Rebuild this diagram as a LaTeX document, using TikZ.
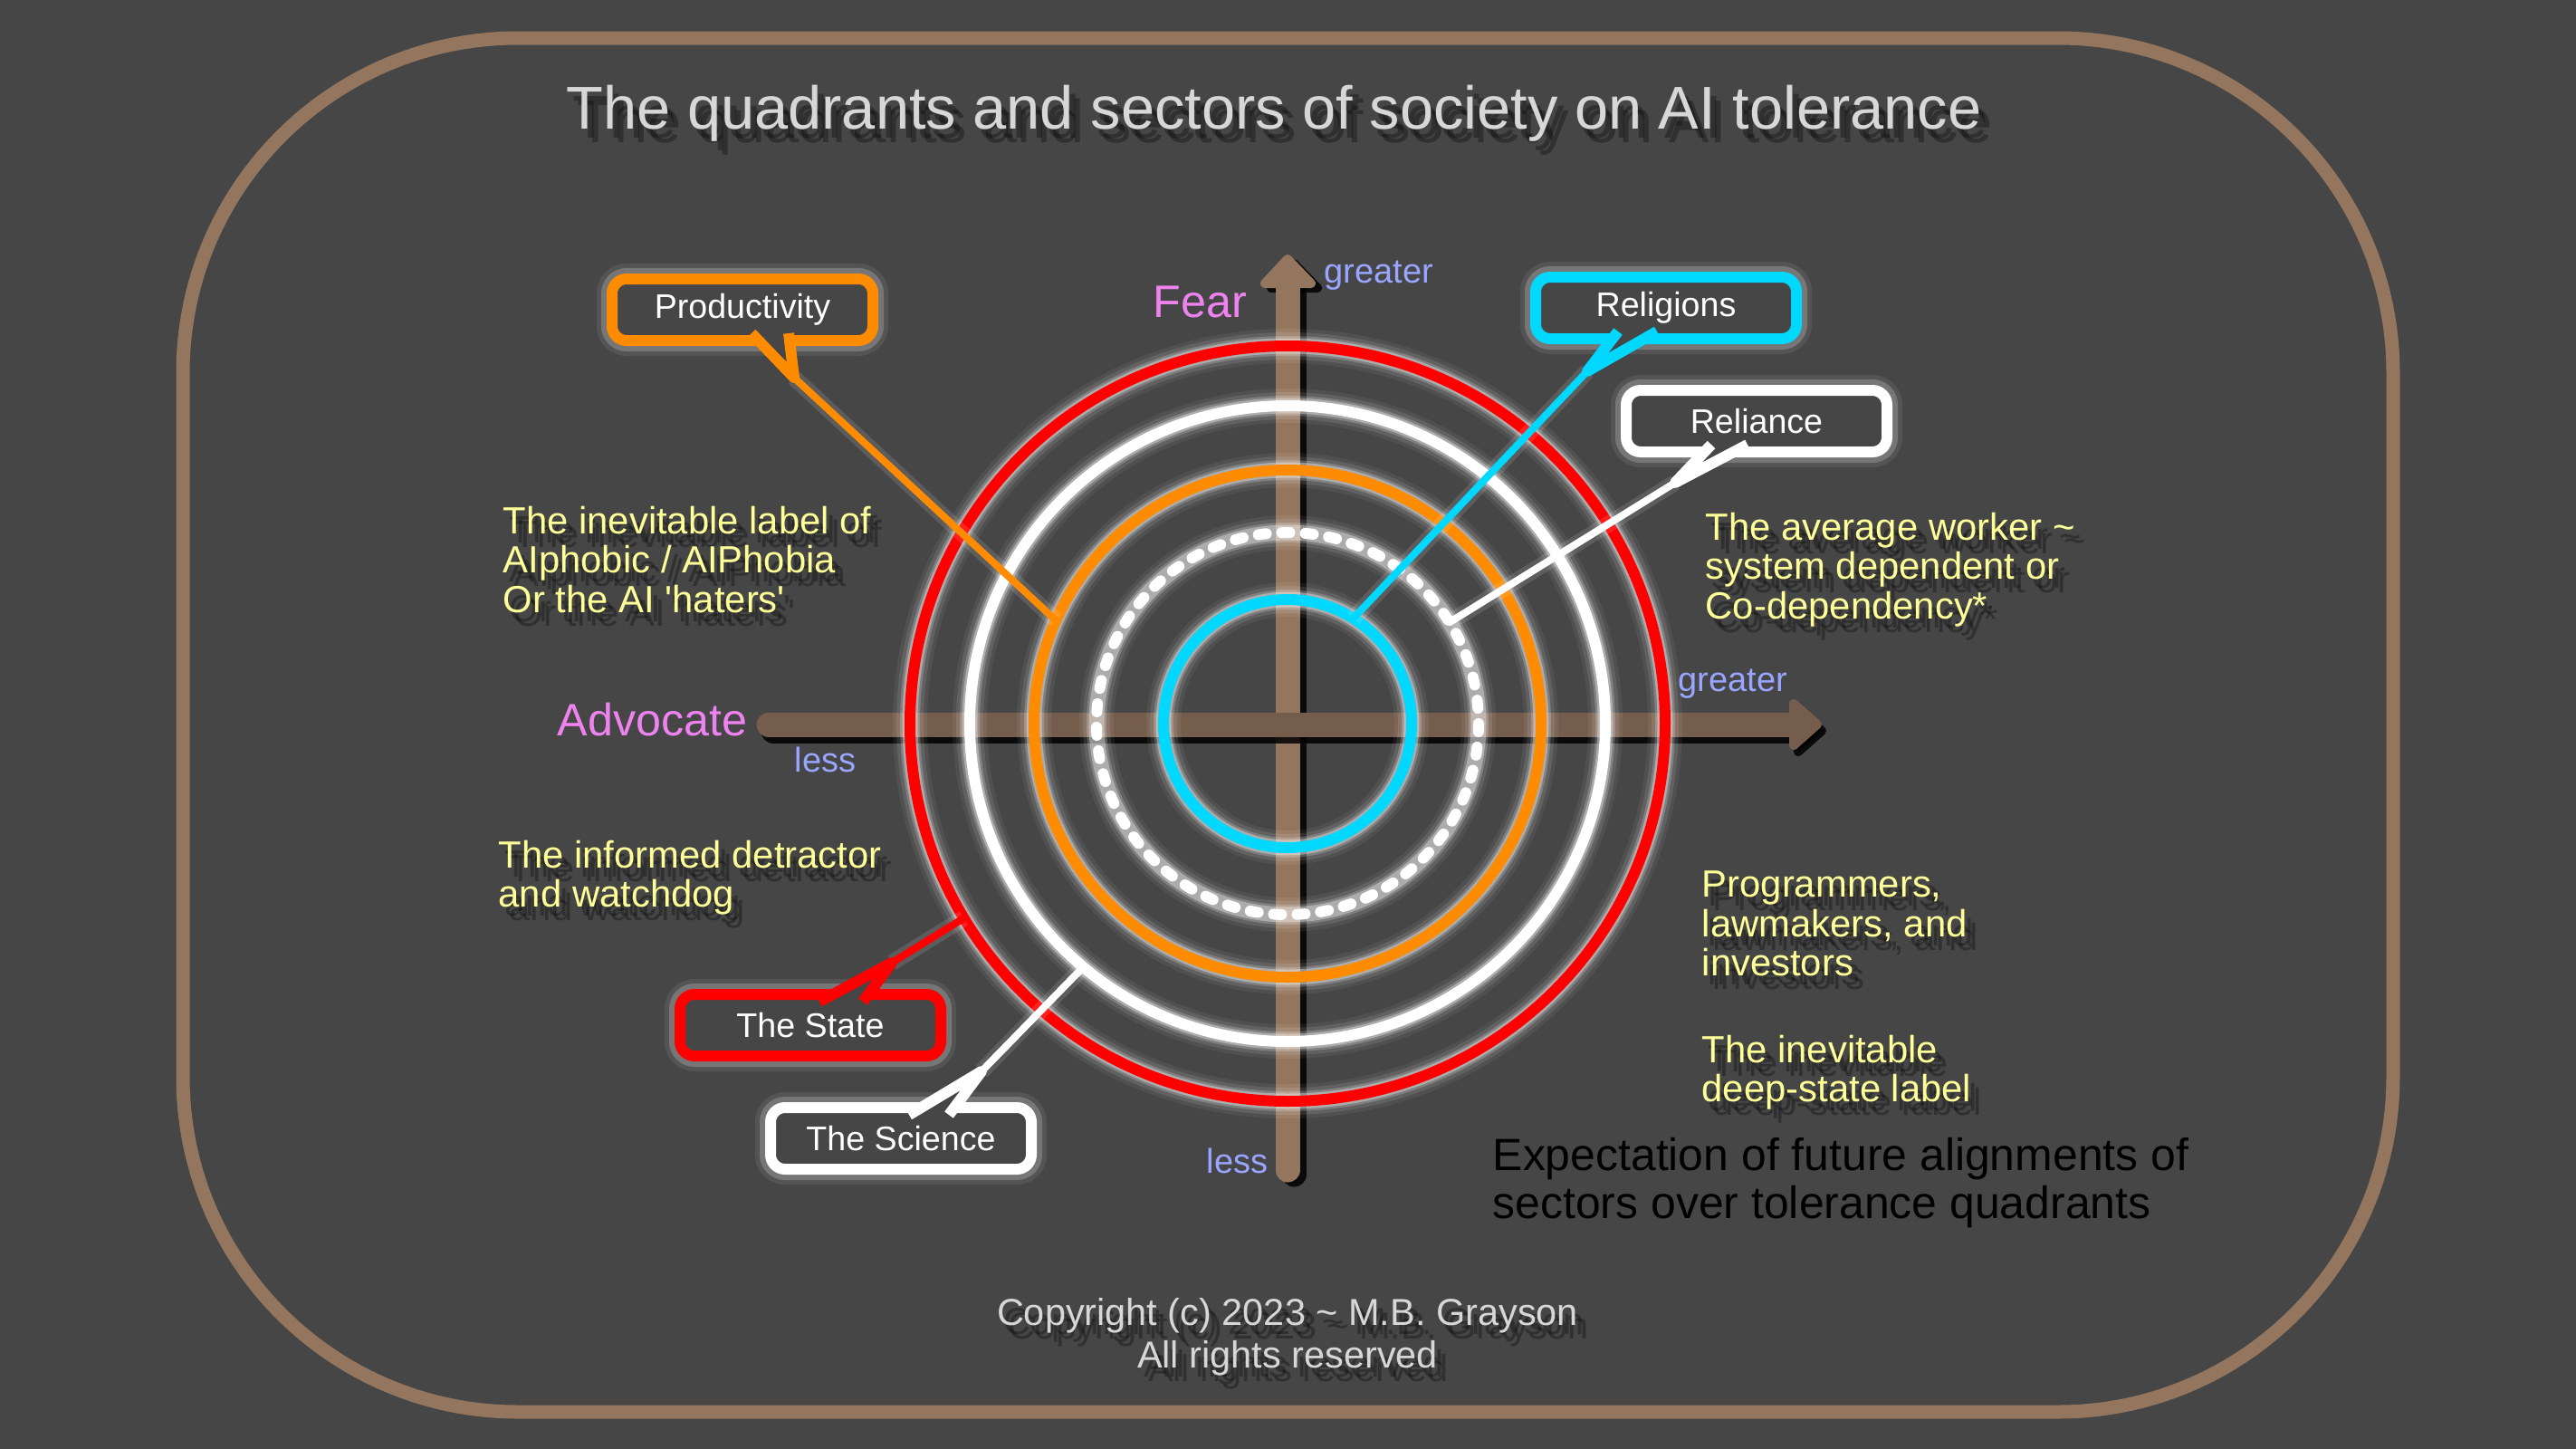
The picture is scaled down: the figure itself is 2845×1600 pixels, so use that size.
\documentclass[tikz,border=0pt]{standalone}
\usepackage{fontspec}
\setmainfont{Liberation Sans}
\usetikzlibrary{calc}
\definecolor{bgcol}{RGB}{70,70,70}
\definecolor{framecol}{RGB}{148,118,95}
\definecolor{advaxiscol}{RGB}{116,93,77}
\definecolor{sectcyan}{RGB}{0,216,255}
\definecolor{sectorange}{RGB}{255,140,0}
\definecolor{sectred}{RGB}{255,0,0}
\definecolor{polecol}{RGB}{238,130,238}
\definecolor{scalecol}{RGB}{153,165,255}
\definecolor{noteyellow}{RGB}{255,255,153}
\definecolor{titlegray}{RGB}{215,215,215}
\tikzset{
  ring/.style={line width=1.2mm,
    preaction={draw=white, solid, line width=3.8mm, opacity=0.06},
    preaction={draw=white, solid, line width=3.0mm, opacity=0.1},
    preaction={draw=white, solid, line width=2.2mm, opacity=0.2},
    preaction={draw=white, solid, line width=1.7mm, opacity=0.35}},
  sectbox/.style={draw, rounded corners=1.6mm, line width=1.2mm, fill=bgcol, text=white,
    minimum width=28.8mm, minimum height=6.8mm, inner sep=0pt, outer sep=0pt,
    font=\fontsize{10.7}{12}\selectfont,
    preaction={draw=white, line width=3.4mm, opacity=0.08},
    preaction={draw=white, line width=2.4mm, opacity=0.2}},
  tail/.style={line width=1.2mm, line join=round, fill=bgcol},
  leader/.style={line width=0.8mm, line cap=round,
    preaction={draw=white, line width=1.8mm, opacity=0.12}},
  note/.style={text=noteyellow, align=left, inner sep=0pt, anchor=north west,
    font=\fontsize{11.9}{12.4}\selectfont},
  titletext/.style={text=titlegray, inner sep=0pt, anchor=base,
    font=\fontsize{19}{22}\selectfont},
  scaletext/.style={text=scalecol, inner sep=0pt, anchor=base west,
    font=\fontsize{10.8}{12}\selectfont},
  poletext/.style={text=polecol, inner sep=0pt, font=\fontsize{14.3}{16}\selectfont},
  soft/.style={text=black, text opacity=0.3},
}
% scale arrows: #1 = colour and shift
\newcommand{\fearaxis}[1]{
  \draw[line width=2.7mm, line cap=round, #1] (1422,1292) -- (1422,310);
  \filldraw[line width=1mm, line join=round, #1] (1397,313) -- (1422,286) -- (1448,313) -- cycle;}
\newcommand{\advaxis}[1]{
  \draw[line width=2.7mm, line cap=round, #1] (849,800) -- (1985,800);
  \filldraw[line width=1mm, line join=round, #1] (1981,777) -- (2007,800) -- (1981,823) -- cycle;}
% text with a soft shadow: name, style, x, y, text
\newcommand{\castnote}[5]{
  \node[#2, soft] (#1-sh1) at (#3+7,#4+10) {#5};
  \node[#2, soft] (#1-sh2) at (#3+12,#4+15) {#5};
  \node[#2] (#1) at (#3,#4) {#5};}

\begin{document}
\begin{tikzpicture}[x=0.1mm, y=-0.1mm]
\useasboundingbox (0,0) rectangle (2845,1600);
\fill[bgcol] (0,0) rectangle (2845,1600);
% frame
\draw[framecol, line width=1.5mm, rounded corners=37mm] (202,42) rectangle (2643,1559);
% title
\castnote{title}{titletext}{1407}{142}{The quadrants and sectors of society on AI tolerance}
% axes
\coordinate (O) at (1422,799);
\fearaxis{black, opacity=0.85, xshift=0.7mm, yshift=-0.5mm}
\fearaxis{framecol}
\advaxis{black, opacity=0.85, xshift=0.5mm, yshift=-0.7mm}
\advaxis{advaxiscol}
% axis labels
\node[poletext, anchor=base east] (fear) at (1378,350) {Fear};
\node[poletext, anchor=base west] (advocate) at (615,812) {Advocate};
\node[scaletext] (fear-hi) at (1462,312) {greater};
\node[scaletext] (fear-lo) at (1332,1295) {less};
\node[scaletext] (adv-hi) at (1853,763) {greater};
\node[scaletext] (adv-lo) at (877,852) {less};
% sector rings
\draw[ring, sectred] (O) circle (417);
\draw[ring, white] (O) circle (351);
\draw[ring, sectorange] (O) circle (280);
\draw[ring, white, line width=1.2mm, dash pattern=on 0.9mm off 1.7mm, line cap=round] (O) circle (211);
\draw[ring, sectcyan] (O) circle (137);
% ends of the leaders on the rings
\coordinate (prod-end) at ($(O)+(204:280)$);
\coordinate (relig-end) at ($(O)+(302:137)$);
\coordinate (reli-end) at ($(O)+(328:211)$);
\coordinate (state-end) at ($(O)+(149:417)$);
\coordinate (sci-end) at ($(O)+(130:351)$);
% callout tips
\coordinate (prod-tip) at (877,417);
\coordinate (relig-tip) at (1753,410);
\coordinate (reli-tip) at (1850,533);
\coordinate (state-tip) at (985,1063);
\coordinate (sci-tip) at (1084,1183);
% leaders
\draw[leader, sectorange] (prod-tip) -- (prod-end);
\draw[leader, sectcyan] (relig-tip) -- (relig-end);
\draw[leader, white] (reli-tip) -- (reli-end);
\draw[leader, sectred] (state-tip) -- (state-end);
\draw[leader, white] (sci-tip) -- (sci-end);
% callout boxes
\node[sectbox, draw=sectorange] (prod) at (820,342) {Productivity};
\node[sectbox, draw=sectcyan] (relig) at (1840,340) {Religions};
\node[sectbox, draw=white] (reli) at (1940,465) {Reliance};
\node[sectbox, draw=sectred] (state) at (895,1132) {The State};
\node[sectbox, draw=white] (sci) at (995,1257) {The Science};
% callout tails
\draw[tail, draw=sectorange] ($(prod.south)+(10,-8)$) -- (prod-tip) -- ($(prod.south)+(51,-8)$);
\draw[tail, draw=sectcyan] ($(relig.south)+(-53,-8)$) -- (relig-tip) -- ($(relig.south)+(-10,-8)$);
\draw[tail, draw=white] ($(reli.south)+(-50,-8)$) -- (reli-tip) -- ($(reli.south)+(-10,-8)$);
\draw[tail, draw=sectred] ($(state.north)+(10,8)$) -- (state-tip) -- ($(state.north)+(58,8)$);
\draw[tail, draw=white] ($(sci.north)+(9,8)$) -- (sci-tip) -- ($(sci.north)+(53,8)$);
% quadrant notes
\castnote{haters}{note}{555}{558}{The inevitable label of\\AIphobic / AIPhobia\\Or the AI \textquotesingle haters\textquotesingle}
\castnote{worker}{note}{1883}{565}{The average worker \textasciitilde\\system dependent or\\Co-dependency*}
\castnote{watchdog}{note}{550}{927}{The informed detractor\\and watchdog}
\castnote{investors}{note}{1879}{961}{Programmers,\\lawmakers, and\\investors}
\castnote{deepstate}{note}{1879}{1142}{The inevitable\\deep-state label}
% caption and copyright
\node[anchor=north west, align=left, inner sep=0pt, text=black, font=\fontsize{14.2}{15}\selectfont] (caption) at (1648,1256) {Expectation of future alignments of\\sectors over tolerance quadrants};
\castnote{copy}{anchor=north, align=center, inner sep=0pt, text=titlegray, font=\fontsize{11.8}{13.4}\selectfont}{1422}{1433}{Copyright (c) 2023 \textasciitilde{} M.B. Grayson\\All rights reserved}
\end{tikzpicture}
\end{document}
